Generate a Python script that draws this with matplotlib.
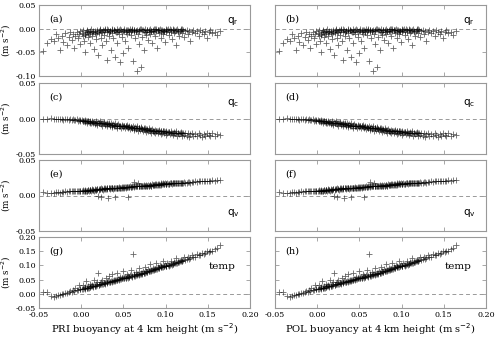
import matplotlib
matplotlib.use("Agg")
import matplotlib.pyplot as plt

plt.rcParams["font.family"] = "DejaVu Serif"

# buoyancy at 4 km height (m s-2), one value per sample
buoy = [
    -0.045, -0.041, -0.036, -0.032, -0.030, -0.027, -0.025, -0.023, -0.021, -0.019, -0.017,
    -0.015, -0.013, -0.011, -0.010, -0.008, -0.007, -0.005, -0.004, -0.003, -0.002, -0.001,
    0.001, 0.002, 0.003, 0.004, 0.005, 0.006, 0.007, 0.008, 0.009, 0.010,
    0.011, 0.012, 0.013, 0.014, 0.015, 0.016, 0.017, 0.018, 0.019, 0.020,
    0.021, 0.022, 0.023, 0.024, 0.025, 0.026, 0.027, 0.028, 0.029, 0.030,
    0.031, 0.032, 0.033, 0.034, 0.035, 0.036, 0.037, 0.038, 0.039, 0.040,
    0.041, 0.042, 0.043, 0.044, 0.045, 0.046, 0.047, 0.048, 0.049, 0.050,
    0.051, 0.052, 0.053, 0.054, 0.055, 0.056, 0.057, 0.058, 0.059, 0.060,
    0.061, 0.062, 0.063, 0.064, 0.065, 0.066, 0.067, 0.068, 0.069, 0.070,
    0.071, 0.072, 0.073, 0.074, 0.075, 0.076, 0.077, 0.078, 0.079, 0.080,
    0.081, 0.082, 0.083, 0.084, 0.085, 0.086, 0.087, 0.088, 0.089, 0.090,
    0.091, 0.092, 0.093, 0.094, 0.095, 0.096, 0.097, 0.098, 0.099, 0.100,
    0.101, 0.102, 0.104, 0.105, 0.106, 0.107, 0.109, 0.110, 0.111, 0.112,
    0.114, 0.115, 0.116, 0.118, 0.119, 0.120, 0.122, 0.123, 0.125, 0.126,
    0.128, 0.129, 0.131, 0.133, 0.135, 0.137, 0.139, 0.141, 0.143, 0.145,
    0.147, 0.149, 0.151, 0.153, 0.155, 0.158, 0.161, 0.165,
]

qr = [
    -0.048, -0.030, -0.022, -0.025, -0.012, -0.020, -0.045, -0.015, -0.028, -0.010, -0.035,
    -0.018, -0.008, -0.024, -0.012, -0.040, -0.015, -0.006, -0.020, -0.011, -0.032, -0.004,
    -0.009, -0.003, -0.025, -0.014, -0.050, -0.007, -0.002, -0.018, -0.011, -0.030,
    -0.005, -0.001, -0.016, -0.008, -0.042, -0.004, -0.012, -0.022, -0.002, -0.055,
    -0.009, -0.001, -0.019, -0.006, -0.035, -0.003, -0.013, -0.001, -0.026, -0.066,
    -0.007, -0.002, -0.015, -0.004, -0.045, -0.001, -0.010, -0.020, -0.003, -0.060,
    -0.008, -0.001, -0.030, -0.005, -0.012, -0.070, -0.002, -0.017, -0.052, -0.004,
    -0.001, -0.025, -0.006, -0.011, -0.002, -0.040, -0.007, -0.001, -0.014, -0.003,
    -0.068, -0.008, -0.002, -0.020, -0.005, -0.089, -0.012, -0.033, -0.004, -0.001,
    -0.080, -0.018, -0.002, -0.045, -0.006, -0.001, -0.013, -0.003, -0.024, -0.007,
    -0.001, -0.011, -0.004, -0.030, -0.002, -0.008, -0.016, -0.001, -0.005, -0.040,
    -0.003, -0.010, -0.001, -0.020, -0.006, -0.002, -0.012, -0.004, -0.028, -0.001,
    -0.008, -0.003, -0.014, -0.001, -0.006, -0.022, -0.002, -0.010, -0.004, -0.035,
    -0.001, -0.007, -0.015, -0.003, -0.009, -0.001, -0.018, -0.005, -0.002, -0.012,
    -0.004, -0.025, -0.006, -0.002, -0.010, -0.004, -0.016, -0.003, -0.008, -0.012,
    -0.005, -0.020, -0.007, -0.003, -0.010, -0.006, -0.013, -0.004,
]

qc = [
    0.000, -0.001, 0.001, -0.001, 0.000, -0.001, 0.000, -0.001, -0.002, -0.001, -0.001,
    -0.002, -0.001, -0.002, -0.001, -0.002, -0.002, -0.001, -0.003, -0.002, -0.002, -0.003,
    -0.002, -0.004, -0.003, -0.005, -0.002, -0.004, -0.006, -0.003, -0.005, -0.007,
    -0.004, -0.006, -0.003, -0.007, -0.005, -0.008, -0.004, -0.006, -0.009, -0.005,
    -0.007, -0.004, -0.008, -0.006, -0.010, -0.007, -0.005, -0.009, -0.008, -0.006,
    -0.011, -0.008, -0.007, -0.010, -0.006, -0.009, -0.012, -0.008, -0.010, -0.007,
    -0.011, -0.009, -0.013, -0.008, -0.011, -0.010, -0.014, -0.009, -0.012, -0.011,
    -0.010, -0.013, -0.011, -0.009, -0.014, -0.012, -0.010, -0.015, -0.012, -0.013,
    -0.011, -0.016, -0.013, -0.012, -0.015, -0.011, -0.017, -0.014, -0.013, -0.016,
    -0.012, -0.015, -0.018, -0.014, -0.016, -0.013, -0.019, -0.015, -0.017, -0.014,
    -0.018, -0.016, -0.020, -0.015, -0.017, -0.019, -0.016, -0.021, -0.018, -0.017,
    -0.020, -0.016, -0.019, -0.022, -0.018, -0.020, -0.017, -0.021, -0.019, -0.023,
    -0.017, -0.021, -0.019, -0.022, -0.018, -0.020, -0.023, -0.019, -0.021, -0.018,
    -0.024, -0.020, -0.022, -0.019, -0.025, -0.021, -0.023, -0.020, -0.024, -0.021,
    -0.026, -0.022, -0.020, -0.024, -0.022, -0.025, -0.021, -0.023, -0.026, -0.022,
    -0.024, -0.020, -0.023, -0.025, -0.021, -0.024, -0.022, -0.023,
]

qv = [
    0.005, 0.004, 0.004, 0.004, 0.005, 0.005, 0.004, 0.005, 0.005, 0.006, 0.005,
    0.006, 0.006, 0.006, 0.006, 0.007, 0.006, 0.007, 0.006, 0.007, 0.007, 0.006,
    0.007, 0.008, 0.006, 0.007, 0.008, 0.007, 0.006, 0.008, 0.007, 0.008,
    0.008, 0.007, 0.009, 0.008, 0.007, 0.009, 0.008, 0.008, 0.009, -0.001,
    0.008, 0.009, 0.010, -0.002, 0.009, 0.008, 0.010, 0.009, 0.009, 0.010,
    0.009, -0.003, 0.010, 0.009, 0.011, 0.010, 0.010, 0.009, 0.011, -0.002,
    0.010, 0.011, 0.010, 0.011, 0.012, 0.010, 0.011, 0.012, 0.011, 0.012,
    0.011, 0.012, 0.011, 0.012, 0.012, -0.002, 0.012, 0.013, 0.012, 0.013,
    0.013, 0.012, 0.019, 0.013, 0.013, 0.014, 0.018, 0.013, 0.014, 0.013,
    0.014, 0.014, 0.013, 0.015, 0.014, 0.014, 0.015, 0.014, 0.015, 0.014,
    0.015, 0.015, 0.014, 0.016, 0.015, 0.015, 0.016, 0.015, 0.016, 0.015,
    0.016, 0.016, 0.015, 0.017, 0.016, 0.016, 0.017, 0.016, 0.017, 0.016,
    0.016, 0.017, 0.016, 0.017, 0.017, 0.016, 0.017, 0.017, 0.018, 0.017,
    0.017, 0.018, 0.018, 0.017, 0.018, 0.018, 0.019, 0.018, 0.018, 0.019,
    0.019, 0.018, 0.019, 0.019, 0.020, 0.019, 0.020, 0.020, 0.020, 0.021,
    0.020, 0.021, 0.021, 0.021, 0.022, 0.021, 0.022, 0.022,
]

temp = [
    0.005, 0.008, -0.008, -0.010, -0.008, -0.004, -0.003, -0.002, 0.000, 0.002, 0.004,
    0.006, 0.009, 0.008, 0.012, 0.010, 0.020, 0.014, 0.015, 0.030, 0.017, 0.018,
    0.016, 0.030, 0.019, 0.017, 0.024, 0.045, 0.021, 0.026, 0.020, 0.035,
    0.024, 0.028, 0.031, 0.025, 0.050, 0.027, 0.033, 0.029, 0.040, 0.075,
    0.031, 0.036, 0.033, 0.042, 0.047, 0.035, 0.038, 0.036, 0.055, 0.040,
    0.039, 0.045, 0.062, 0.041, 0.046, 0.043, 0.068, 0.045, 0.050, 0.046,
    0.049, 0.072, 0.049, 0.053, 0.051, 0.060, 0.053, 0.057, 0.055, 0.080,
    0.054, 0.058, 0.055, 0.070, 0.057, 0.061, 0.058, 0.066, 0.085, 0.060,
    0.140, 0.063, 0.068, 0.064, 0.078, 0.066, 0.071, 0.067, 0.090, 0.069,
    0.074, 0.071, 0.080, 0.073, 0.095, 0.075, 0.079, 0.077, 0.086, 0.079,
    0.105, 0.081, 0.085, 0.083, 0.092, 0.085, 0.089, 0.087, 0.110, 0.089,
    0.093, 0.091, 0.100, 0.093, 0.097, 0.095, 0.115, 0.097, 0.101, 0.099,
    0.097, 0.110, 0.099, 0.102, 0.115, 0.103, 0.106, 0.112, 0.107, 0.125,
    0.110, 0.113, 0.112, 0.120, 0.115, 0.117, 0.130, 0.119, 0.122, 0.128,
    0.124, 0.126, 0.135, 0.129, 0.131, 0.140, 0.135, 0.138, 0.145, 0.141,
    0.144, 0.150, 0.147, 0.152, 0.150, 0.156, 0.162, 0.172,
]

# densest part of the clouds
core_buoy = [
    0.0045, 0.0085, 0.0125, 0.0165, 0.0205, 0.0245, 0.0285, 0.0325, 0.0365, 0.0405,
    0.0445, 0.0485, 0.0525, 0.0565, 0.0605, 0.0645, 0.0685, 0.0725, 0.0765, 0.0805,
    0.0845, 0.0885, 0.0925, 0.0965, 0.1005, 0.1045, 0.1085, 0.1125, 0.1165, 0.1205,
    0.0025, 0.0065, 0.0105, 0.0145, 0.0185, 0.0225, 0.0265, 0.0305, 0.0345, 0.0385,
    0.0425, 0.0465, 0.0505, 0.0545, 0.0585, 0.0625, 0.0665, 0.0705, 0.0745, 0.0785,
    0.0825, 0.0865, 0.0905, 0.0945, 0.0985, 0.1025, 0.1065, 0.1105, 0.1145, 0.1185,
]
core_qr = [
    -0.012, -0.008, -0.006, -0.010, -0.004, -0.007, -0.003, -0.006, -0.002, -0.005,
    -0.003, -0.007, -0.002, -0.004, -0.001, -0.005, -0.002, -0.003, -0.006, -0.002,
    -0.004, -0.001, -0.003, -0.005, -0.002, -0.004, -0.001, -0.003, -0.005, -0.002,
    -0.015, -0.005, -0.009, -0.004, -0.007, -0.002, -0.005, -0.001, -0.004, -0.002,
    -0.006, -0.001, -0.004, -0.002, -0.005, -0.002, -0.003, -0.001, -0.004, -0.002,
    -0.005, -0.001, -0.003, -0.002, -0.004, -0.001, -0.003, -0.002, -0.004, -0.001,
]
core_qc = [
    -0.004, -0.004, -0.005, -0.006, -0.006, -0.007, -0.008, -0.008, -0.009, -0.010,
    -0.010, -0.011, -0.011, -0.012, -0.013, -0.013, -0.014, -0.015, -0.015, -0.016,
    -0.017, -0.017, -0.018, -0.018, -0.019, -0.019, -0.020, -0.020, -0.021, -0.021,
    -0.003, -0.004, -0.005, -0.005, -0.006, -0.007, -0.007, -0.008, -0.009, -0.009,
    -0.010, -0.011, -0.011, -0.012, -0.012, -0.013, -0.014, -0.014, -0.015, -0.016,
    -0.016, -0.017, -0.017, -0.018, -0.018, -0.019, -0.020, -0.020, -0.021, -0.021,
]
core_qv = [
    0.007, 0.008, 0.008, 0.008, 0.009, 0.009, 0.010, 0.010, 0.010, 0.011,
    0.011, 0.011, 0.012, 0.012, 0.012, 0.013, 0.013, 0.014, 0.014, 0.014,
    0.015, 0.015, 0.015, 0.016, 0.016, 0.016, 0.017, 0.017, 0.017, 0.018,
    0.007, 0.007, 0.008, 0.008, 0.009, 0.009, 0.009, 0.010, 0.010, 0.010,
    0.011, 0.011, 0.012, 0.012, 0.012, 0.013, 0.013, 0.013, 0.014, 0.014,
    0.014, 0.015, 0.015, 0.015, 0.016, 0.016, 0.017, 0.017, 0.017, 0.018,
]
core_temp = [
    0.019, 0.022, 0.026, 0.028, 0.032, 0.034, 0.039, 0.041, 0.044, 0.048,
    0.050, 0.054, 0.056, 0.060, 0.064, 0.066, 0.070, 0.072, 0.076, 0.080,
    0.084, 0.088, 0.092, 0.096, 0.098, 0.102, 0.106, 0.110, 0.114, 0.118,
    0.018, 0.021, 0.024, 0.027, 0.030, 0.033, 0.037, 0.040, 0.043, 0.046,
    0.049, 0.052, 0.055, 0.058, 0.062, 0.065, 0.068, 0.071, 0.074, 0.078,
    0.082, 0.086, 0.090, 0.094, 0.097, 0.100, 0.104, 0.108, 0.112, 0.116,
]

panels = [["(a)", "(b)"], ["(c)", "(d)"], ["(e)", "(f)"], ["(g)", "(h)"]]
series = [(qr, core_qr), (qc, core_qc), (qv, core_qv), (temp, core_temp)]
var_names = [r"$\mathrm{q_r}$", r"$\mathrm{q_c}$", r"$\mathrm{q_v}$", "temp"]
var_pos = [(0.92, 0.78), (0.92, 0.72), (0.92, 0.25), (0.87, 0.58)]
ylims = [(-0.10, 0.05), (-0.05, 0.05), (-0.05, 0.05), (-0.05, 0.20)]
xlabels = ["PRI buoyancy at 4 km height (m s$^{-2}$)",
           "POL buoyancy at 4 km height (m s$^{-2}$)"]
xticks = [-0.05, 0.00, 0.05, 0.10, 0.15, 0.20]

fig = plt.figure(figsize=(5.0, 3.39), dpi=100)
W, H = 500, 339
col_left = [39, 275]
col_w = 211
row_top = [5, 83, 160, 237]
row_h = 71
frame = "#999999"

for r in range(4):
    lo, hi = ylims[r]
    yt = [round(lo + 0.05 * i, 2) for i in range(int(round((hi - lo) / 0.05)) + 1)]
    for c in range(2):
        ax = fig.add_axes([col_left[c] / W, 1 - (row_top[r] + row_h) / H,
                           col_w / W, row_h / H])
        ax.axhline(0, color="#999999", linestyle=(0, (4, 3)), linewidth=0.7)
        ax.plot(buoy, series[r][0], linestyle="none", marker="+", color="black",
                markersize=4, markeredgewidth=0.6, alpha=0.6)
        ax.plot(core_buoy, series[r][1], linestyle="none", marker="+", color="black",
                markersize=4, markeredgewidth=0.6, alpha=0.6)
        ax.set_xlim(-0.05, 0.20)
        ax.set_ylim(lo, hi)
        ax.set_xticks(xticks)
        ax.set_yticks(yt)
        ax.tick_params(direction="in", top=True, right=True, length=3,
                       width=0.6, color=frame, labelsize=5.8, pad=2)
        for s in ax.spines.values():
            s.set_color(frame)
            s.set_linewidth(0.8)
        ax.yaxis.set_major_formatter(plt.FormatStrFormatter("%.2f"))
        ax.xaxis.set_major_formatter(plt.FormatStrFormatter("%.2f"))
        if c == 1:
            ax.set_yticklabels([])
        else:
            ax.set_ylabel("(m s$^{-2}$)", fontsize=6.3, labelpad=2)
        if r < 3:
            ax.set_xticklabels([])
        else:
            ax.set_xlabel(xlabels[c], fontsize=7.2, labelpad=2)
        ax.text(0.05, 0.80, panels[r][c], transform=ax.transAxes,
                fontsize=7, va="center", ha="left")
        ax.text(var_pos[r][0], var_pos[r][1], var_names[r], transform=ax.transAxes,
                fontsize=7.5, va="center", ha="center")

fig.savefig("out.png", dpi=100)
